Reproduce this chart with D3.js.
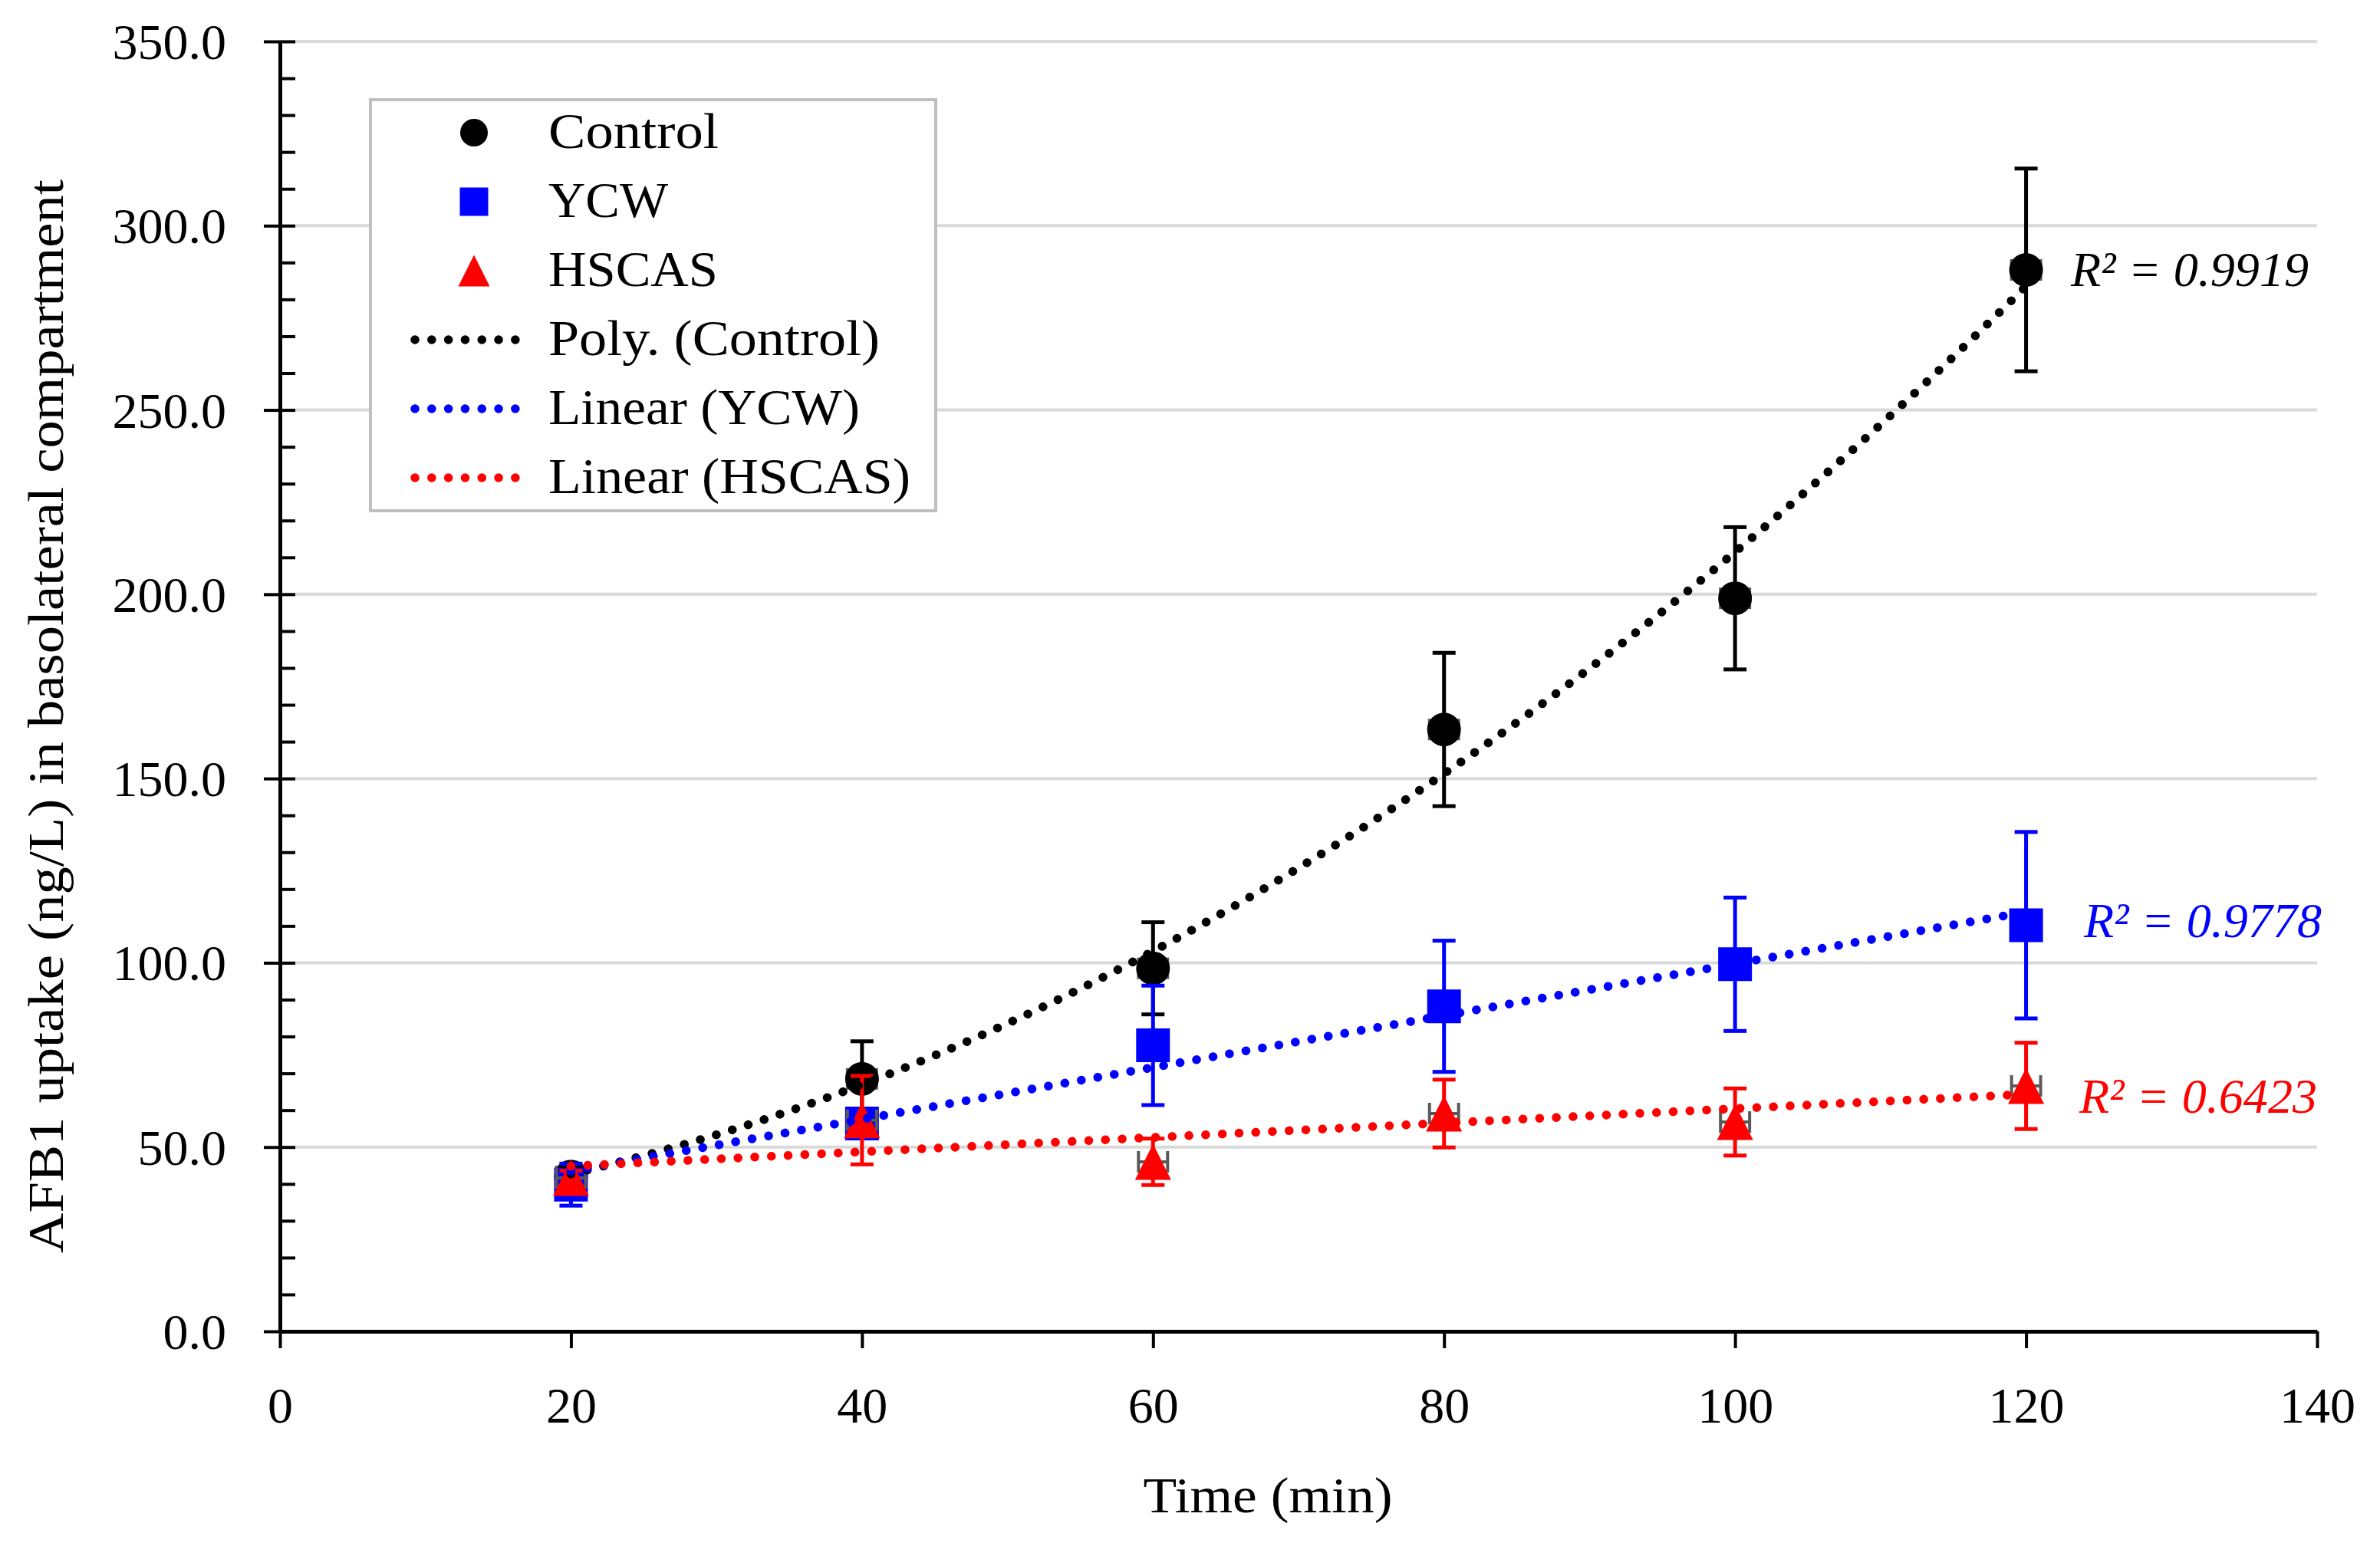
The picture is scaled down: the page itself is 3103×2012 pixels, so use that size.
<!DOCTYPE html>
<html>
<head>
<meta charset="utf-8">
<script src="https://cdn.jsdelivr.net/npm/d3@7"></script>
<style>
  html, body { margin: 0; padding: 0; background: #fff; }
  svg { display: block; font-family: "Liberation Serif", "Times New Roman", serif; }
</style>
</head>
<body>
<svg id="chart"></svg>
<script>
// data
const times = [20, 40, 60, 80, 100, 120];
const controlMean = [42.0, 68.5, 98.5, 163.3, 198.9, 288.0];
const controlSd   = [2.0, 10.2, 12.5, 20.8, 19.3, 27.5];
const ycwMean     = [39.8, 56.4, 77.6, 88.2, 99.6, 110.2];
const ycwSd       = [5.7, 3.0, 16.2, 17.8, 18.1, 25.3];
const hscasMean   = [41.6, 57.3, 46.0, 59.1, 56.8, 66.6];
const hscasSd     = [2.0, 12.0, 6.3, 9.2, 9.1, 11.7];
const timeErr     = [1.0, 1.0, 1.0, 1.0, 1.0, 1.0];

const xTicks = [0, 20, 40, 60, 80, 100, 120, 140];
const yTicks = [0, 50, 100, 150, 200, 250, 300, 350];
const yMinor = d3.range(0, 351, 10);
const legendLabels = ["Control", "YCW", "HSCAS", "Poly. (Control)", "Linear (YCW)", "Linear (HSCAS)"];
const r2Labels = ["R² = 0.9919", "R² = 0.9778", "R² = 0.6423"];
const xTitle = "Time (min)";
const yTitle = "AFB1 uptake (ng/L) in basolateral compartment";

const W = 3103, H = 2012;
const svg = d3.select("#chart").attr("width", W).attr("height", H);

const x = d3.scaleLinear().domain([0, 140]).range([365, 3021]);
const y = d3.scaleLinear().domain([0, 350]).range([1736, 54]);

const series = [
    { name: "Control", mean: controlMean, sd: controlSd, color: "#000000", shape: "circle", fit: 2 },
    { name: "YCW", mean: ycwMean, sd: ycwSd, color: "#0000ff", shape: "square", fit: 1 },
    { name: "HSCAS", mean: hscasMean, sd: hscasSd, color: "#ff0000", shape: "triangle", fit: 1 }
];

// triangle with width == height, centred on its box
const symTriangle = {
    draw(ctx, size) {
        const s = Math.sqrt(size) / 2;
        ctx.moveTo(0, -s);
        ctx.lineTo(s, s);
        ctx.lineTo(-s, s);
        ctx.closePath();
    }
};
function symbolPath(shape, px) {
    if (shape === "circle") return d3.symbol(d3.symbolCircle, Math.PI * (px / 2) * (px / 2))();
    if (shape === "square") return d3.symbol(d3.symbolSquare, px * px)();
    return d3.symbol(symTriangle, px * px)();
}
const markerPx = { circle: 44, square: 44, triangle: 47 };
const legendPx = { circle: 36, square: 37, triangle: 41 };

// least squares polynomial fit
function polyfit(xs, ys, order) {
    const n = order + 1;
    const A = [], b = [];
    for (let i = 0; i < n; i++) {
        A.push([]);
        for (let j = 0; j < n; j++) A[i].push(d3.sum(xs, v => Math.pow(v, i + j)));
        b.push(d3.sum(xs, (v, k) => Math.pow(v, i) * ys[k]));
    }
    for (let c = 0; c < n; c++) {
        for (let r = c + 1; r < n; r++) {
            const f = A[r][c] / A[c][c];
            for (let k = c; k < n; k++) A[r][k] -= f * A[c][k];
            b[r] -= f * b[c];
        }
    }
    const coef = new Array(n).fill(0);
    for (let r = n - 1; r >= 0; r--) {
        let s = b[r];
        for (let k = r + 1; k < n; k++) s -= A[r][k] * coef[k];
        coef[r] = s / A[r][r];
    }
    return t => coef.reduce((acc, c, i) => acc + c * Math.pow(t, i), 0);
}

// gridlines
svg.append("g")
    .selectAll("line")
    .data(yTicks.filter(d => d > 0))
    .join("line")
    .attr("x1", x(0)).attr("x2", x(140))
    .attr("y1", d => y(d)).attr("y2", d => y(d))
    .attr("stroke", "#d9d9d9")
    .attr("stroke-width", 4);

// y axis
const yAxis = svg.append("g")
    .attr("transform", `translate(${x(0)},0)`)
    .call(d3.axisLeft(y).tickValues(yTicks).tickFormat(d3.format(".1f"))
        .tickSizeInner(21).tickSizeOuter(0).tickPadding(49));
svg.append("g")
    .attr("transform", `translate(${x(0)},0)`)
    .call(d3.axisRight(y).tickValues(yMinor).tickFormat("").tickSizeInner(20).tickSizeOuter(0))
    .call(g => g.select(".domain").remove())
    .selectAll("line").attr("stroke-width", 4);

// x axis
const xAxis = svg.append("g")
    .attr("transform", `translate(0,${y(0)})`)
    .call(d3.axisBottom(x).tickValues(xTicks).tickSizeInner(22).tickSizeOuter(0).tickPadding(50));

[yAxis, xAxis].forEach(g => {
    g.select(".domain").attr("stroke-width", 5);
    g.selectAll(".tick line").attr("stroke-width", 4);
    g.selectAll("text")
        .attr("font-family", '"Liberation Serif", serif')
        .attr("font-size", 66)
        .attr("fill", "#000");
});
yAxis.selectAll("text").attr("dy", "0.34em");

// axis titles
svg.append("text")
    .attr("x", 1653).attr("y", 1972)
    .attr("text-anchor", "middle")
    .attr("font-size", 66)
    .attr("textLength", 325).attr("lengthAdjust", "spacingAndGlyphs")
    .text(xTitle);
svg.append("text")
    .attr("transform", "translate(82,934) rotate(-90)")
    .attr("text-anchor", "middle")
    .attr("font-size", 66)
    .attr("textLength", 1400).attr("lengthAdjust", "spacingAndGlyphs")
    .text(yTitle);

// error bars and markers
const capHalf = 15;
series.forEach(s => {
    const pts = times.map((t, i) => ({ t, v: s.mean[i], e: s.sd[i], xe: timeErr[i] }));
    const g = svg.append("g");

    // horizontal (time) error bars, grey
    const gx = g.append("g").attr("stroke", "#595959").attr("stroke-width", 4);
    gx.selectAll(".hx").data(pts).join("line")
        .attr("x1", d => x(d.t - d.xe)).attr("x2", d => x(d.t + d.xe))
        .attr("y1", d => y(d.v)).attr("y2", d => y(d.v));
    gx.selectAll(".hl").data(pts).join("line")
        .attr("x1", d => x(d.t - d.xe)).attr("x2", d => x(d.t - d.xe))
        .attr("y1", d => y(d.v) - 14).attr("y2", d => y(d.v) + 14);
    gx.selectAll(".hr").data(pts).join("line")
        .attr("x1", d => x(d.t + d.xe)).attr("x2", d => x(d.t + d.xe))
        .attr("y1", d => y(d.v) - 14).attr("y2", d => y(d.v) + 14);

    // vertical error bars
    const gy = g.append("g").attr("stroke", s.color).attr("stroke-width", 5);
    gy.selectAll(".v").data(pts).join("line")
        .attr("x1", d => x(d.t)).attr("x2", d => x(d.t))
        .attr("y1", d => y(d.v + d.e)).attr("y2", d => y(d.v - d.e));
    gy.selectAll(".ct").data(pts).join("line")
        .attr("x1", d => x(d.t) - capHalf).attr("x2", d => x(d.t) + capHalf)
        .attr("y1", d => y(d.v + d.e)).attr("y2", d => y(d.v + d.e));
    gy.selectAll(".cb").data(pts).join("line")
        .attr("x1", d => x(d.t) - capHalf).attr("x2", d => x(d.t) + capHalf)
        .attr("y1", d => y(d.v - d.e)).attr("y2", d => y(d.v - d.e));

    g.selectAll("path.mk").data(pts).join("path")
        .attr("class", "mk")
        .attr("transform", d => `translate(${x(d.t)},${y(d.v)})`)
        .attr("d", symbolPath(s.shape, markerPx[s.shape]))
        .attr("fill", s.color);
});

// trendlines
const dotStyle = g => g.attr("fill", "none")
    .attr("stroke-width", 11.5)
    .attr("stroke-linecap", "round")
    .attr("stroke-dasharray", "0.1 21.7");
const line = d3.line().x(d => x(d[0])).y(d => y(d[1]));
series.forEach(s => {
    const f = polyfit(times, s.mean, s.fit);
    const samples = d3.range(20, 120.01, 0.5).map(t => [t, f(t)]);
    svg.append("path")
        .datum(samples)
        .attr("d", line)
        .attr("stroke", s.color)
        .call(dotStyle);
});

// R² labels
const r2Pos = [[2700, 373], [2717, 1222], [2711, 1451]];
series.forEach((s, i) => {
    svg.append("text")
        .attr("x", r2Pos[i][0]).attr("y", r2Pos[i][1])
        .attr("font-size", 64)
        .attr("font-style", "italic")
        .attr("fill", s.color)
        .attr("textLength", 310).attr("lengthAdjust", "spacingAndGlyphs")
        .text(r2Labels[i]);
});

// legend
const legend = svg.append("g");
legend.append("rect")
    .attr("x", 483).attr("y", 130).attr("width", 737).attr("height", 536)
    .attr("fill", "#fff").attr("stroke", "#bfbfbf").attr("stroke-width", 4);
const labelLen = [222, 156, 221, 432, 406, 472];
const rowY = i => 173 + i * 90;
series.forEach((s, i) => {
    legend.append("path")
        .attr("transform", `translate(618,${rowY(i)})`)
        .attr("d", symbolPath(s.shape, legendPx[s.shape]))
        .attr("fill", s.color);
    legend.append("line")
        .attr("x1", 541).attr("x2", 674)
        .attr("y1", rowY(i + 3)).attr("y2", rowY(i + 3))
        .attr("stroke", s.color)
        .call(dotStyle);
});
legendLabels.forEach((t, i) => {
    legend.append("text")
        .attr("x", 715).attr("y", rowY(i) + 20)
        .attr("font-size", 66)
        .attr("textLength", labelLen[i]).attr("lengthAdjust", "spacingAndGlyphs")
        .text(t);
});
</script>
</body>
</html>
